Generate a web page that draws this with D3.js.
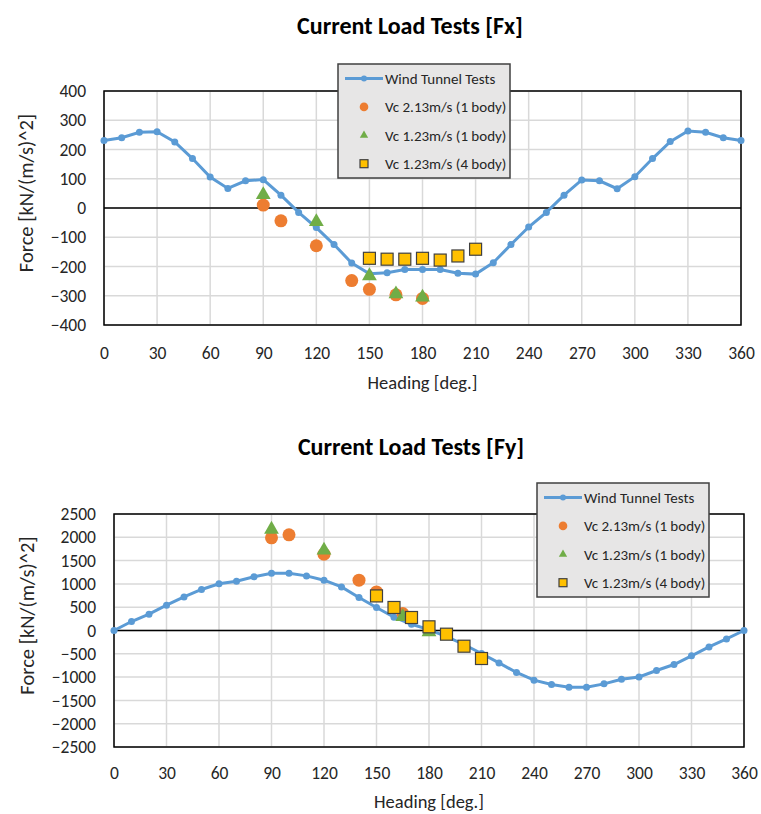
<!DOCTYPE html>
<html>
<head>
<meta charset="utf-8">
<script src="https://cdn.jsdelivr.net/npm/d3@7"></script>
<style>
  body { margin: 0; background: #fff; }
  text { font-family: Carlito, Calibri, Lato, sans-serif; }
</style>
</head>
<body>
<div id="container"></div>
<script>
let w = 761;
let h = 814;

// headings of the wind tunnel tests (deg)
let headings = [0,10,20,30,40,50,60,70,80,90,100,110,120,130,140,150,160,170,180,
  190,200,210,220,230,240,250,260,270,280,290,300,310,320,330,340,350,360];
let xTicks = [0,30,60,90,120,150,180,210,240,270,300,330,360];

// Fx
let fxWind = [231,240,259,261,226,169,106,67,93,97,44,-15,-67,-125,-188,-225,-221,-210,-210,
  -210,-223,-226,-187,-125,-65,-15,44,96,93,66,107,169,227,263,259,240,231];
let fxVc213Head = [90,100,120,140,150,165,180];
let fxVc213 = [10,-44,-129,-248,-278,-297,-309];
let fxVc123Head = [90,120,150,165,180];
let fxVc123 = [45,-47,-232,-294,-305];
let fx4bodyHead = [150,160,170,180,190,200,210];
let fx4body = [-172,-175,-175,-172,-178,-164,-141];
let fxTicks = [-400,-300,-200,-100,0,100,200,300,400];

// Fy
let fyWind = [0,193,350,543,721,880,1002,1058,1152,1230,1230,1172,1080,936,708,494,285,135,20,
  -130,-300,-494,-695,-901,-1066,-1159,-1216,-1218,-1145,-1045,-996,-858,-730,-543,-352,-180,0];
let fyVc213Head = [90,100,120,140,150,165];
let fyVc213 = [1989,2054,1637,1080,828,365];
let fyVc123Head = [90,120,165,180];
let fyVc123 = [2170,1723,293,-30];
let fy4bodyHead = [150,160,170,180,190,200,210];
let fy4body = [742,494,279,79,-79,-337,-601];
let fyTicks = [-2500,-2000,-1500,-1000,-500,0,500,1000,1500,2000,2500];

let legendNames = ["Wind Tunnel Tests","Vc 2.13m/s (1 body)","Vc 1.23m/s (1 body)","Vc 1.23m/s (4 body)"];

let blue = "#5b9bd5", orange = "#ed7d31", green = "#70ad47", yellow = "#ffc000";

let svg = d3.select("#container").append("svg")
  .attr("width", w)
  .attr("height", h)
  .style("background", "#fff");

function zip(a, b) {
  return a.map(function (d, i) { return {x: d, y: b[i]}; });
}

function drawChart(o) {
  let g = svg.append("g");
  let x = d3.scaleLinear().domain([0, 360]).range([o.left, o.right]);
  let y = d3.scaleLinear().domain([o.yTicks[0], o.yTicks[o.yTicks.length - 1]]).range([o.bottom, o.top]);

  // title
  g.append("text").attr("x", o.titleX).attr("y", o.titleY)
    .attr("text-anchor", "middle").attr("font-size", 24).attr("font-weight", "bold")
    .attr("fill", "#000").text(o.title);

  // grid
  g.selectAll(".vgrid").data(xTicks).enter().append("line")
    .attr("x1", d => x(d)).attr("x2", d => x(d)).attr("y1", o.top).attr("y2", o.bottom)
    .attr("stroke", "#d9d9d9").attr("stroke-width", 1.5);
  g.selectAll(".hgrid").data(o.yTicks).enter().append("line")
    .attr("x1", o.left).attr("x2", o.right).attr("y1", d => y(d)).attr("y2", d => y(d))
    .attr("stroke", "#d9d9d9").attr("stroke-width", 1.5);

  // zero line + border
  g.append("line").attr("x1", o.left).attr("x2", o.right).attr("y1", y(0)).attr("y2", y(0))
    .attr("stroke", "#000").attr("stroke-width", 1.5);
  g.append("rect").attr("x", o.left).attr("y", o.top)
    .attr("width", o.right - o.left).attr("height", o.bottom - o.top)
    .attr("fill", "none").attr("stroke", "#000").attr("stroke-width", 1.5);

  // axes
  let xAxis = g.append("g").attr("transform", "translate(0," + o.xLabelY + ")")
    .call(d3.axisBottom(x).tickValues(xTicks).tickSize(0).tickPadding(0));
  xAxis.select(".domain").remove();
  xAxis.selectAll("text").attr("font-size", 17.5).attr("fill", "#262626").attr("dy", "0.35em");

  let yAxis = g.append("g").attr("transform", "translate(" + o.yLabelX + ",0)")
    .call(d3.axisLeft(y).tickValues(o.yTicks).tickFormat(d3.format("d")).tickSize(0).tickPadding(0));
  yAxis.select(".domain").remove();
  yAxis.selectAll("text").attr("font-size", 17.5).attr("fill", "#262626");

  g.append("text").attr("x", (o.left + o.right) / 2).attr("y", o.xTitleY)
    .attr("text-anchor", "middle").attr("dy", "0.35em").attr("font-size", 18.5)
    .attr("fill", "#262626").text("Heading [deg.]");
  g.append("text")
    .attr("transform", "translate(" + o.yTitleX + "," + ((o.top + o.bottom) / 2 - 15) + ") rotate(-90)")
    .attr("text-anchor", "middle").attr("dy", "0.35em").attr("font-size", 20.5)
    .attr("fill", "#262626").text("Force [kN/(m/s)^2]");

  // wind tunnel line
  let windData = zip(headings, o.wind);
  g.append("path").datum(windData)
    .attr("d", d3.line().x(d => x(d.x)).y(d => y(d.y)))
    .attr("fill", "none").attr("stroke", blue).attr("stroke-width", 3);
  g.selectAll(".wdot").data(windData).enter().append("circle")
    .attr("cx", d => x(d.x)).attr("cy", d => y(d.y)).attr("r", 3.5).attr("fill", blue);

  // scatter series
  g.selectAll(".c213").data(zip(o.vc213Head, o.vc213)).enter().append("circle")
    .attr("cx", d => x(d.x)).attr("cy", d => y(d.y)).attr("r", 6.5).attr("fill", orange);
  g.selectAll(".t123").data(zip(o.vc123Head, o.vc123)).enter().append("path")
    .attr("d", d3.symbol(d3.symbolTriangle).size(95))
    .attr("transform", d => "translate(" + x(d.x) + "," + y(d.y) + ")")
    .attr("fill", green);
  g.selectAll(".s4").data(zip(o.b4Head, o.b4)).enter().append("rect")
    .attr("x", d => x(d.x) - 6).attr("y", d => y(d.y) - 6)
    .attr("width", 12).attr("height", 12)
    .attr("fill", yellow).attr("stroke", "#404040").attr("stroke-width", 1.2);

  // legend
  let lg = g.append("g").attr("transform", "translate(" + o.legX + "," + o.legY + ")");
  lg.append("rect").attr("width", 172).attr("height", 114)
    .attr("fill", "#e7e6e6").attr("stroke", "#404040").attr("stroke-width", 1.5);
  let rows = lg.selectAll(".row").data(legendNames).enter().append("g")
    .attr("transform", (d, i) => "translate(0," + (14.5 + i * 28.4) + ")");
  rows.append("text").attr("x", 47).attr("dy", "0.35em").attr("font-size", 15)
    .attr("fill", "#262626").text(d => d);
  let r0 = d3.select(rows.nodes()[0]);
  r0.append("line").attr("x1", 7).attr("x2", 45).attr("stroke", blue).attr("stroke-width", 3);
  r0.append("circle").attr("cx", 26).attr("r", 3).attr("fill", blue);
  d3.select(rows.nodes()[1]).append("circle").attr("cx", 26).attr("r", 4.3).attr("fill", orange);
  d3.select(rows.nodes()[2]).append("path").attr("transform", "translate(26,0)")
    .attr("d", d3.symbol(d3.symbolTriangle).size(30)).attr("fill", green);
  d3.select(rows.nodes()[3]).append("rect").attr("x", 22).attr("y", -4)
    .attr("width", 8).attr("height", 8)
    .attr("fill", yellow).attr("stroke", "#404040").attr("stroke-width", 1.2);
}

drawChart({
  title: "Current Load Tests [Fx]", titleX: 410, titleY: 34,
  left: 104, right: 741, top: 91, bottom: 325,
  yTicks: fxTicks, xLabelY: 353, yLabelX: 86, xTitleY: 383, yTitleX: 26,
  wind: fxWind, vc213Head: fxVc213Head, vc213: fxVc213,
  vc123Head: fxVc123Head, vc123: fxVc123, b4Head: fx4bodyHead, b4: fx4body,
  legX: 338, legY: 64
});

drawChart({
  title: "Current Load Tests [Fy]", titleX: 411, titleY: 455,
  left: 114, right: 744, top: 514, bottom: 747,
  yTicks: fyTicks, xLabelY: 773, yLabelX: 96, xTitleY: 802, yTitleX: 27,
  wind: fyWind, vc213Head: fyVc213Head, vc213: fyVc213,
  vc123Head: fyVc123Head, vc123: fyVc123, b4Head: fy4bodyHead, b4: fy4body,
  legX: 537, legY: 483
});
</script>
</body>
</html>
